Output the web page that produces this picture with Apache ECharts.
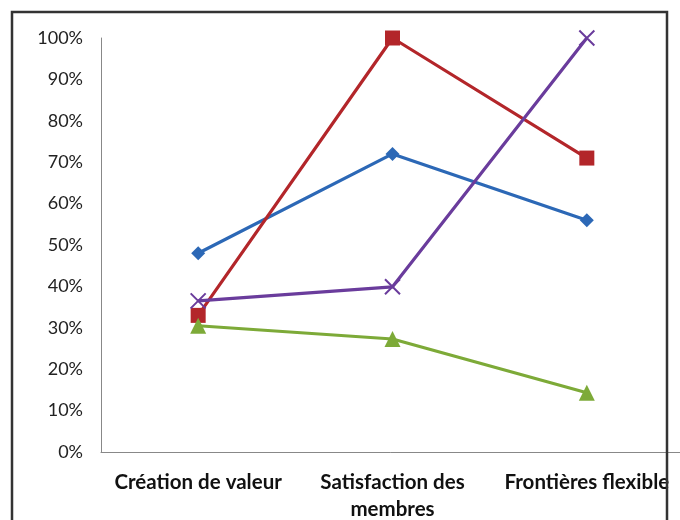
<!DOCTYPE html>
<html>
<head>
<meta charset="utf-8">
<script src="https://cdn.jsdelivr.net/npm/echarts@6/dist/echarts.min.js"></script>
<style>html,body{margin:0;padding:0;background:#fff}#c{width:680px;height:520px}</style>
</head>
<body>
<div id="c"></div>
<script>
var categories = ['Création de valeur', 'Satisfaction des\nmembres', 'Frontières flexible'];
var yTicks = [0, 10, 20, 30, 40, 50, 60, 70, 80, 90, 100];
var blueValues = [48, 72, 56];
var redValues = [33, 100, 71];
var greenValues = [30.5, 27.3, 14.3];
var purpleValues = [36.5, 39.9, 100];

var chart = echarts.init(document.getElementById('c'), null, {renderer: 'canvas'});
function s(name, data, color, symbol, size) {
  return {
    name: name, type: 'line', data: data, symbol: symbol, symbolSize: size,
    lineStyle: {color: color, width: 3.2}, itemStyle: {color: color},
    emphasis: {disabled: true}, z: 3
  };
}
var xPath = 'path://M0,0L10,10M10,0L0,10';
chart.setOption({
  animation: false,
  backgroundColor: '#fff',
  grid: {left: 101, top: 38, width: 583, height: 414, containLabel: false, outerBoundsMode: 'none'},
  xAxis: {
    type: 'category', data: categories, boundaryGap: true,
    axisLine: {lineStyle: {color: '#888', width: 1}},
    axisTick: {show: false},
    axisLabel: {
      interval: 0, margin: 17, color: '#111', fontFamily: 'Lato', fontWeight: 'bold',
      fontSize: 20.5, lineHeight: 27
    }
  },
  yAxis: {
    type: 'value', min: 0, max: 100, interval: 10,
    axisLine: {show: true, lineStyle: {color: '#888', width: 1}},
    axisTick: {show: false},
    splitLine: {show: false},
    axisLabel: {margin: 18, color: '#222', fontFamily: 'Lato', fontSize: 18,
      formatter: function (v) { return yTicks.indexOf(v) >= 0 ? v + '%' : ''; }}
  },
  series: [
    s('Bleu', blueValues, '#2C68B6', 'diamond', 14),
    s('Rouge', redValues, '#B3262A', 'rect', 15),
    s('Vert', greenValues, '#7DAA38', 'triangle', 16),
    {
      name: 'Violet', type: 'line', data: purpleValues, symbol: xPath, symbolSize: 15,
      lineStyle: {color: '#6A3C9C', width: 3.2},
      itemStyle: {color: 'none', borderColor: '#6A3C9C', borderWidth: 2},
      emphasis: {disabled: true}, z: 4
    }
  ],
  graphic: [
    {type: 'rect', shape: {x: 12, y: 12, width: 655, height: 520}, z: 10, silent: true,
      style: {fill: 'none', stroke: '#333', lineWidth: 2.5}}
  ]
});
</script>
</body>
</html>
